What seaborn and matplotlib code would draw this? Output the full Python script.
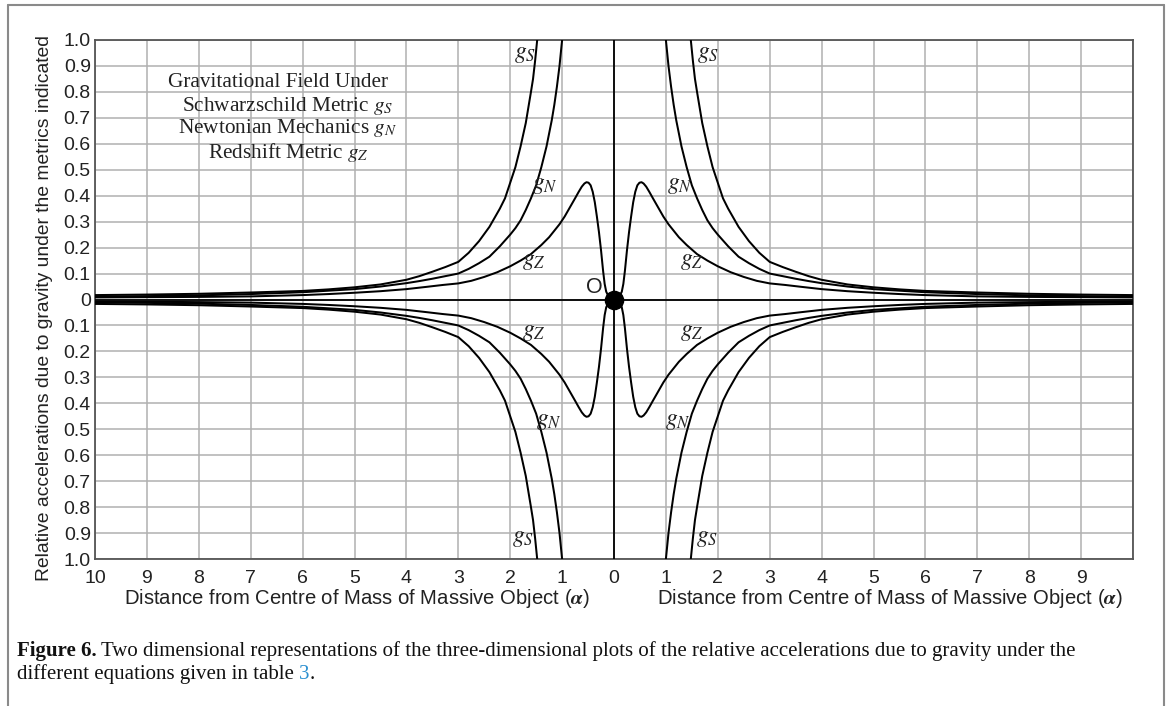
import numpy as np
import pandas as pd
import matplotlib
matplotlib.use("Agg")
import matplotlib.pyplot as plt
from matplotlib.lines import Line2D
import seaborn as sns

# ---- values (positive x, upper half) ----
X_S = [1.45, 1.48, 1.52, 1.56, 1.60, 1.65, 1.70, 1.80, 1.90, 2.0, 2.1, 2.2, 2.4, 2.6, 2.8, 3.0,
       3.25, 3.5, 3.75, 4, 4.5, 5, 5.5, 6, 7, 8, 9, 10]
G_S = [1.1, 1.0, 0.92, 0.85, 0.80, 0.74, 0.68, 0.59, 0.51, 0.45, 0.39, 0.35, 0.28, 0.225, 0.18, 0.145,
       0.125, 0.107, 0.09, 0.076, 0.058, 0.047, 0.039, 0.033, 0.027, 0.022, 0.019, 0.017]

X_N = [0.97, 1.0, 1.05, 1.1, 1.15, 1.2, 1.3, 1.4, 1.5, 1.6, 1.7, 1.8, 1.9, 2.0, 2.2, 2.4, 2.6, 2.8,
       3.0, 3.25, 3.5, 3.75, 4, 4.5, 5, 5.5, 6, 7, 8, 9, 10]
G_N = [1.1, 1.0, 0.9, 0.82, 0.75, 0.69, 0.59, 0.51, 0.44, 0.39, 0.345, 0.305, 0.275, 0.25, 0.205,
       0.165, 0.14, 0.118, 0.1, 0.09, 0.08, 0.071, 0.063, 0.05, 0.04, 0.034, 0.028, 0.021, 0.016,
       0.013, 0.011]

X_Z = [0, 0.1, 0.15, 0.18, 0.21, 0.25, 0.29, 0.33, 0.37, 0.41, 0.45, 0.49, 0.53, 0.57, 0.62, 0.68,
       0.75, 0.85, 0.95, 1.05, 1.15, 1.25, 1.4, 1.6, 1.8, 2.0, 2.25, 2.5, 2.75, 3.0, 3.3, 3.6, 4,
       4.5, 5, 5.5, 6, 7, 8, 9, 10]
G_Z = [0, 0.01, 0.03, 0.06, 0.11, 0.19, 0.26, 0.32, 0.375, 0.415, 0.44, 0.45, 0.452, 0.447, 0.435,
       0.415, 0.39, 0.355, 0.32, 0.29, 0.265, 0.24, 0.21, 0.175, 0.15, 0.128, 0.105, 0.087, 0.072,
       0.062, 0.056, 0.049, 0.04, 0.032, 0.026, 0.021, 0.017, 0.012, 0.01, 0.009, 0.008]

X_TICKS = list(range(-10, 11))
X_TICK_LABELS = [str(abs(v)) for v in range(-10, 10)] + [""]
Y_TICKS = [round(v / 10, 1) for v in range(-10, 11)]
Y_TICK_LABELS = ["0" if v == 0 else f"{abs(v):.1f}" for v in Y_TICKS]

# curve labels: (text, x, y)
CURVE_LABELS = [
    ("$g_S$", -1.71, 0.946), ("$g_S$", 1.81, 0.946),
    ("$g_N$", -1.33, 0.44), ("$g_N$", 1.27, 0.44),
    ("$g_Z$", -1.54, 0.15), ("$g_Z$", 1.50, 0.15),
    ("$g_Z$", -1.54, -0.127), ("$g_Z$", 1.50, -0.127),
    ("$g_N$", -1.25, -0.47), ("$g_N$", 1.23, -0.47),
    ("$g_S$", -1.75, -0.92), ("$g_S$", 1.79, -0.92),
]

XLABEL = r"Distance from Centre of Mass of Massive Object ($\boldsymbol{\alpha}$)"
YLABEL = "Relative accelerations due to gravity under the metrics indicated"


def build_frame():
    rows = []
    for name, xs, gs in [("S", X_S, G_S), ("N", X_N, G_N), ("Z", X_Z, G_Z)]:
        for sx in (1, -1):
            for sy in (1, -1):
                branch = f"{name}{sx}{sy}"
                for x, g in zip(xs, gs):
                    rows.append({"x": sx * x, "g": sy * g, "branch": branch})
    return pd.DataFrame(rows)


df = build_frame()

sns.set_style("white")
plt.rcParams["font.family"] = ["Liberation Sans", "DejaVu Sans"]
plt.rcParams["mathtext.fontset"] = "stix"

W, H = 1170, 706
fig = plt.figure(figsize=(W / 100, H / 100), dpi=100)
ax = fig.add_axes([95 / W, 1 - 559 / H, (1133 - 95) / W, (559 - 40) / H])

sns.lineplot(data=df, x="x", y="g", units="branch", estimator=None, sort=False,
             color="black", linewidth=1.45, legend=False, ax=ax, zorder=4,
             solid_joinstyle="round", solid_capstyle="round")

ax.set_xlim(-10, 10)
ax.set_ylim(-1, 1)
ax.set_xticks(X_TICKS)
ax.set_xticklabels(X_TICK_LABELS)
ax.set_yticks(Y_TICKS)
ax.set_yticklabels(Y_TICK_LABELS)
ax.tick_params(axis="x", length=0, pad=8, labelsize=14, colors="#222222")
ax.tick_params(axis="y", length=0, pad=3, labelsize=14, colors="#222222")
ax.grid(True, color="#b0b0b0", linewidth=1.1)
ax.set_axisbelow(True)
for sp in ax.spines.values():
    sp.set_color("#555555")
    sp.set_linewidth(1.3)
ax.set_xlabel("")
ax.set_ylabel("")

ax.axhline(0, color="black", linewidth=1.3, zorder=3)
ax.axvline(0, color="black", linewidth=1.3, zorder=3)
sns.scatterplot(x=[0], y=[0], s=170, color="black", edgecolor="black", ax=ax, zorder=6, legend=False)
ax.text(-0.375, 0.045, "O", fontsize=15.5, ha="center", va="center", color="#222222", zorder=7)

for txt, x, y in CURVE_LABELS:
    ax.text(x, y, txt, fontsize=17, ha="center", va="center", color="#222222", zorder=7)

serif = ["Liberation Serif", "DejaVu Serif"]
ax.text(-8.59, 0.838, "Gravitational Field Under", family=serif, fontsize=15.3, ha="left", va="center", color="#222222")
ax.text(-6.28, 0.746, "Schwarzschild Metric $g_S$", family=serif, fontsize=15.3, ha="center", va="center", color="#222222")
ax.text(-6.28, 0.662, "Newtonian Mechanics $g_N$", family=serif, fontsize=15.3, ha="center", va="center", color="#222222")
ax.text(-6.28, 0.565, "Redshift Metric $g_Z$", family=serif, fontsize=15.3, ha="center", va="center", color="#222222")

trans = ax.get_xaxis_transform()
ax.text(-4.95, -0.077, XLABEL, transform=trans, fontsize=14.6, ha="center", va="center", color="#222222")
ax.text(5.32, -0.077, XLABEL, transform=trans, fontsize=14.6, ha="center", va="center", color="#222222")
fig.text(45 / W, 1 - 308 / H, YLABEL, rotation=90, fontsize=13.9, ha="center", va="center", color="#222222")

# page frame
frame_kw = dict(color="#8a8a8a", linewidth=1.5, transform=fig.transFigure)
fig.add_artist(Line2D([8 / W, 1164 / W], [1 - 5 / H, 1 - 5 / H], **frame_kw))
fig.add_artist(Line2D([8 / W, 8 / W], [1 - 5 / H, 0], **frame_kw))
fig.add_artist(Line2D([1164 / W, 1164 / W], [1 - 5 / H, 0], **frame_kw))

# caption
fig.canvas.draw()
renderer = fig.canvas.get_renderer()
cap_kw = dict(family=serif, fontsize=15, va="baseline", color="#111111")
y1 = 1 - 656 / H
y2 = 1 - 679 / H
t1 = fig.text(17 / W, y1, "Figure 6.", weight="bold", **cap_kw)
bb = t1.get_window_extent(renderer)
fig.text((bb.x1 + 4) / W, y1,
         "Two dimensional representations of the three-dimensional plots of the relative accelerations due to gravity under the",
         **cap_kw)
t3 = fig.text(17 / W, y2, "different equations given in table ", **cap_kw)
bb = t3.get_window_extent(renderer)
t4 = fig.text(bb.x1 / W, y2, "3", family=serif, fontsize=15, va="baseline", color="#2a8fd0")
bb = t4.get_window_extent(renderer)
fig.text(bb.x1 / W, y2, ".", **cap_kw)

fig.savefig("out.png", dpi=100)
